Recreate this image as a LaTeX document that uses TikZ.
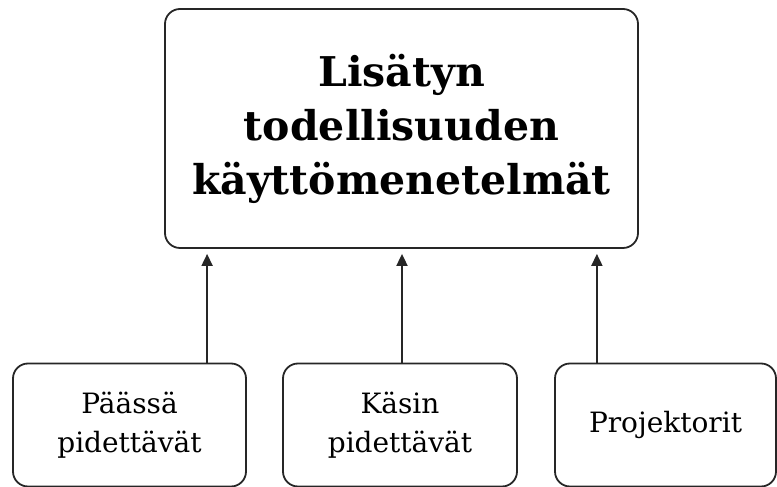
\documentclass[tikz,border=0pt]{standalone}
\usepackage{fontspec}
\setmainfont{DejaVu Serif}
\usetikzlibrary{arrows.meta, calc, positioning}
\tikzstyle{box}=[draw=black!85, line width=1.8pt, rounded corners=15pt, align=center, inner sep=0pt]
\tikzstyle{feed}=[line width=1.8pt, draw=black!85, -{Triangle[width=11pt, length=12pt]}]

\begin{document}
\begin{tikzpicture}[x=1pt, y=1pt]
\useasboundingbox (0,0) rectangle (777,487);
\node [box, minimum width=473pt, minimum height=239pt, font=\fontsize{41}{54}\selectfont\bfseries] (ar) at (401.5,358.5) {Lisätyn\\todellisuuden\\käyttömenetelmät};
\tikzstyle{every node}=[box, minimum height=123pt, font=\fontsize{28}{39}\selectfont];
\node [minimum width=233pt] (head) at (129.5,62) {Päässä\\pidettävät};
\node [minimum width=234pt] (hand) at (400,62) {Käsin\\pidettävät};
\node [minimum width=221pt] (proj) at (665.5,62) {Projektorit};
\coordinate (in1) at ($(ar.south west)+(43,-5)$);
\coordinate (in2) at ($(ar.south)+(0.5,-5)$);
\coordinate (in3) at ($(ar.south east)+(-42,-5)$);
\draw [feed] (head.north -| in1) -- (in1);
\draw [feed] (hand.north -| in2) -- (in2);
\draw [feed] (proj.north -| in3) -- (in3);
\end{tikzpicture}
\end{document}
